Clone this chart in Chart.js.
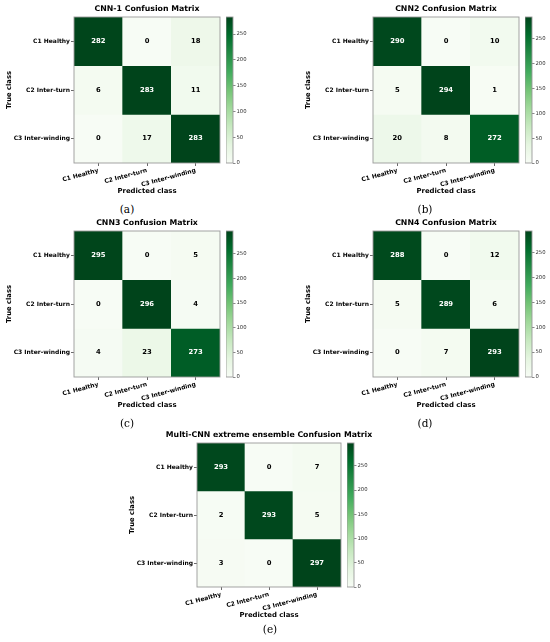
<!DOCTYPE html>
<html><head><meta charset="utf-8">
<script src="https://cdn.jsdelivr.net/npm/chart.js@4/dist/chart.umd.min.js"></script>
<style>
html,body{margin:0;padding:0;background:#fff;}
#wrap{position:relative;width:550px;height:642px;overflow:hidden;background:#fff;}
#wrap canvas{position:absolute;}
.cap{position:absolute;font-family:"DejaVu Serif","Liberation Serif",serif;font-size:10.5px;transform:translate(-50%,-50%);color:#000;white-space:nowrap;}
</style></head><body><div id="wrap"></div>
<script>
// ---- data ----
const classes = ['C1 Healthy', 'C2 Inter-turn', 'C3 Inter-winding'];
const titles = ['CNN-1 Confusion Matrix', 'CNN2 Confusion Matrix', 'CNN3 Confusion Matrix', 'CNN4 Confusion Matrix', 'Multi-CNN extreme ensemble Confusion Matrix'];
const captions = ['(a)', '(b)', '(c)', '(d)', '(e)'];
const cnn1 = [[282, 0, 18], [6, 283, 11], [0, 17, 283]];
const cnn2 = [[290, 0, 10], [5, 294, 1], [20, 8, 272]];
const cnn3 = [[295, 0, 5], [0, 296, 4], [4, 23, 273]];
const cnn4 = [[288, 0, 12], [5, 289, 6], [0, 7, 293]];
const ensemble = [[293, 0, 7], [2, 293, 5], [3, 0, 297]];
const colorbarTicks = [0, 50, 100, 150, 200, 250];
const xTitle = 'Predicted class';
const yTitle = 'True class';

// ---- style / layout ----
const F = 'DejaVu Sans';
const GREENS = ['#f7fcf5','#e5f5e0','#c7e9c0','#a1d99b','#74c476','#41ab5d','#238b45','#006d2c','#00441b'];
function hex(c){return [parseInt(c.slice(1,3),16),parseInt(c.slice(3,5),16),parseInt(c.slice(5,7),16)];}
function greens(t){
  t = Math.max(0, Math.min(1, t));
  const p = t * (GREENS.length - 1);
  const i = Math.min(Math.floor(p), GREENS.length - 2);
  const f = p - i;
  const a = hex(GREENS[i]), b = hex(GREENS[i+1]);
  const c = a.map((v,k)=>Math.round(v + (b[k]-v)*f));
  return 'rgb(' + c.join(',') + ')';
}
const panels = [
  {m: cnn1,     L: 74,  T: 17,  S: 146, cx: 127, cy: 209},
  {m: cnn2,     L: 373, T: 17,  S: 146, cx: 425, cy: 209},
  {m: cnn3,     L: 74,  T: 231, S: 146, cx: 127, cy: 423},
  {m: cnn4,     L: 373, T: 231, S: 146, cx: 425, cy: 423},
  {m: ensemble, L: 197, T: 443, S: 144, cx: 270, cy: 629}
];
const wrap = document.getElementById('wrap');
function makeCanvas(left, top, w, h){
  const c = document.createElement('canvas');
  c.width = w; c.height = h;
  c.style.left = left + 'px'; c.style.top = top + 'px';
  c.style.width = w + 'px'; c.style.height = h + 'px';
  wrap.appendChild(c);
  return c;
}
const framePlugin = {
  id: 'frame',
  afterDraw(chart){
    const a = chart.chartArea, ctx = chart.ctx;
    ctx.save();
    ctx.strokeStyle = '#9a9a9a'; ctx.lineWidth = 0.9;
    ctx.strokeRect(a.left, a.top, a.right - a.left, a.bottom - a.top);
    ctx.restore();
  }
};

panels.forEach((p, idx) => {
  const M = p.m;
  const vmax = Math.max(...M.flat());
  const datasets = M.map((row, r) => ({
    data: row.map(() => [r, r + 1]),
    counts: row,
    backgroundColor: row.map(v => greens(v / vmax)),
    borderWidth: 0,
    barPercentage: 1,
    categoryPercentage: 1,
    grouped: false
  }));
  const cellText = {
    id: 'cellText',
    afterDatasetsDraw(chart){
      const ctx = chart.ctx;
      ctx.save();
      ctx.font = 'bold 6.8px "' + F + '"';
      ctx.textAlign = 'center'; ctx.textBaseline = 'middle';
      chart.data.datasets.forEach((ds, di) => {
        chart.getDatasetMeta(di).data.forEach((el, j) => {
          const v = ds.counts[j];
          const c = el.getCenterPoint();
          ctx.fillStyle = v > vmax / 2 ? '#ffffff' : '#000000';
          ctx.fillText(String(v), c.x, c.y);
        });
      });
      ctx.restore();
    }
  };
  const cv = makeCanvas(p.L - 74, p.T - 17, 74 + p.S + 74, 17 + p.S + 32);
  new Chart(cv, {
    type: 'bar',
    data: {labels: classes, datasets},
    options: {
      responsive: false, animation: false,
      layout: {padding: 0, autoPadding: false},
      plugins: {
        legend: {display: false}, tooltip: {enabled: false},
        title: {display: true, text: titles[idx], color: '#000',
          font: {family: F, size: 7.8, weight: 'bold', lineHeight: 1.2},
          padding: {top: 4, bottom: 3.64}}
      },
      scales: {
        x: {
          type: 'category', offset: true,
          grid: {display: true, drawOnChartArea: false, drawTicks: true, tickLength: 3, color: '#444', lineWidth: 0.8, offset: false},
          border: {display: false},
          ticks: {autoSkip: false, maxRotation: 15, minRotation: 15, padding: 1, color: '#000',
            font: {family: F, size: 6, weight: 'bold'}},
          title: {display: true, text: xTitle, color: '#000', padding: {top: 0, bottom: 0},
            font: {family: F, size: 6.9, weight: 'bold', lineHeight: 1.2}},
          afterFit(s){ s.height = 32; }
        },
        y: {
          type: 'linear', min: 0, max: classes.length, reverse: true,
          afterBuildTicks(s){ s.ticks = classes.map((_, i) => ({value: i + 0.5})); },
          grid: {display: true, drawOnChartArea: false, drawTicks: true, tickLength: 3, color: '#444', lineWidth: 0.8},
          border: {display: false},
          ticks: {padding: 1, color: '#000', font: {family: F, size: 6, weight: 'bold'},
            callback: (v, i) => classes[i]},
          title: {display: true, text: yTitle, color: '#000', padding: {top: 5, bottom: 0},
            font: {family: F, size: 6.8, weight: 'bold', lineHeight: 1.2}},
          afterFit(s){ s.width = 74; }
        },
        yR: {
          type: 'linear', position: 'right', min: 0, max: 1,
          grid: {display: false}, border: {display: false}, ticks: {display: false},
          afterFit(s){ s.width = 74; }
        }
      }
    },
    plugins: [cellText, framePlugin]
  });

  // colorbar
  const cbLeft = p.L + p.S + 6;
  const cb = makeCanvas(cbLeft, p.T - 6, 7 + 20, p.S + 12);
  new Chart(cb, {
    type: 'bar',
    data: {labels: [''], datasets: [{
      data: [[0, vmax]],
      backgroundColor(ctx){
        const a = ctx.chart.chartArea;
        if (!a) return GREENS[0];
        const g = ctx.chart.ctx.createLinearGradient(0, a.bottom, 0, a.top);
        GREENS.forEach((c, i) => g.addColorStop(i / (GREENS.length - 1), c));
        return g;
      },
      borderWidth: 0, barPercentage: 1, categoryPercentage: 1
    }]},
    options: {
      responsive: false, animation: false,
      layout: {padding: {top: 6, bottom: 6, left: 0, right: 0}, autoPadding: false},
      plugins: {legend: {display: false}, tooltip: {enabled: false}},
      scales: {
        x: {display: false},
        y: {
          position: 'right', min: 0, max: vmax,
          afterBuildTicks(s){ s.ticks = colorbarTicks.map(v => ({value: v})); },
          grid: {display: true, drawOnChartArea: false, drawTicks: true, tickLength: 2.5, color: '#555', lineWidth: 0.7},
          border: {display: false},
          ticks: {padding: 1, color: '#333', font: {family: F, size: 5.3}},
          afterFit(s){ s.width = 20; }
        }
      }
    },
    plugins: [framePlugin]
  });

  const cap = document.createElement('div');
  cap.className = 'cap';
  cap.textContent = captions[idx];
  cap.style.left = p.cx + 'px'; cap.style.top = p.cy + 'px';
  wrap.appendChild(cap);
});
</script>
</body></html>
